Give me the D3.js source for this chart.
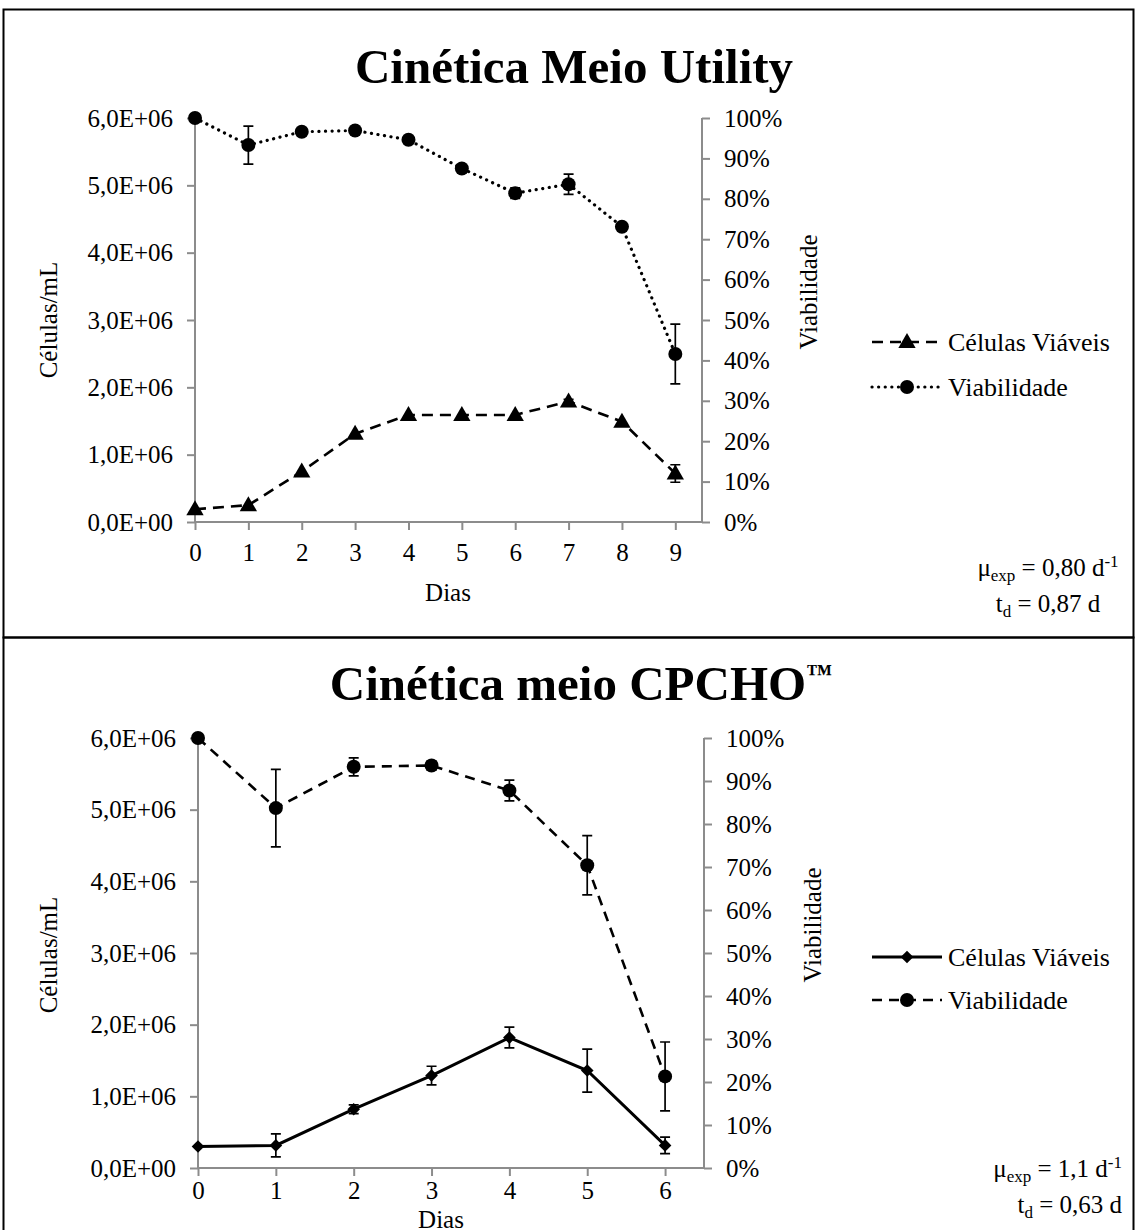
<!DOCTYPE html>
<html>
<head>
<meta charset="utf-8">
<script src="https://cdn.jsdelivr.net/npm/d3@7"></script>
<style>
  body { margin: 0; background: #fff; }
  svg text { font-family: "Liberation Serif", "Times New Roman", serif; fill: #000; }
</style>
</head>
<body>
<svg id="chart" width="1135" height="1230"></svg>
<script>
// ---- data ----
const utilityDays = [0, 1, 2, 3, 4, 5, 6, 7, 8, 9];
const utilityCells = [0.19e6, 0.25e6, 0.75e6, 1.31e6, 1.59e6, 1.59e6, 1.59e6, 1.79e6, 1.49e6, 0.72e6];
const utilityCellsErr = [0, 0, 0, 0, 0, 0, 0, 0.03e6, 0, 0.13e6];
const utilityViab = [1.00, 0.933, 0.966, 0.969, 0.946, 0.875, 0.814, 0.836, 0.731, 0.416];
const utilityViabErr = [0, 0.047, 0, 0, 0, 0, 0.013, 0.025, 0, 0.074];

const cpchoDays = [0, 1, 2, 3, 4, 5, 6];
const cpchoCells = [0.30e6, 0.315e6, 0.82e6, 1.29e6, 1.82e6, 1.36e6, 0.315e6];
const cpchoCellsErr = [0, 0.16e6, 0.06e6, 0.13e6, 0.145e6, 0.30e6, 0.115e6];
const cpchoViab = [1.00, 0.837, 0.933, 0.936, 0.878, 0.704, 0.213];
const cpchoViabErr = [0, 0.09, 0.021, 0.01, 0.024, 0.069, 0.08];

const leftTicks = [0, 1e6, 2e6, 3e6, 4e6, 5e6, 6e6];
const rightTicks = [0, 0.1, 0.2, 0.3, 0.4, 0.5, 0.6, 0.7, 0.8, 0.9, 1.0];
const seriesNames = ["Células Viáveis", "Viabilidade"];

const svg = d3.select("#chart");
const axisColor = "#8c8c8c";

function sciFmt(v) {
    if (v === 0) return "0,0E+00";
    return (v / 1e6).toFixed(1).replace(".", ",") + "E+06";
}
const pctFmt = d3.format(".0%");

// outer frames
svg.append("rect").attr("x", 3.5).attr("y", 9.5).attr("width", 1130).attr("height", 628)
    .attr("fill", "none").attr("stroke", "#000").attr("stroke-width", 2);
svg.append("rect").attr("x", 3.5).attr("y", 637.5).attr("width", 1130).attr("height", 600)
    .attr("fill", "none").attr("stroke", "#000").attr("stroke-width", 2);

function marker(g, type, x, y) {
    if (type === "circle") {
        g.append("circle").attr("cx", x).attr("cy", y).attr("r", 7).attr("fill", "#000");
    } else if (type === "triangle") {
        g.append("path").attr("d", d3.symbol(d3.symbolTriangle, 130)())
            .attr("transform", "translate(" + x + "," + (y + 1) + ")").attr("fill", "#000");
    } else {
        g.append("path").attr("d", d3.symbol(d3.symbolSquare, 80)())
            .attr("transform", "translate(" + x + "," + y + ") rotate(45)").attr("fill", "#000");
    }
}

function drawChart(c) {
    const g = svg.append("g");
    const x = d3.scaleLinear().domain([0, c.xMax]).range([c.left, c.right]);
    const yL = d3.scaleLinear().domain([0, 6e6]).range([c.bottom, c.top]);
    const yR = d3.scaleLinear().domain([0, 1]).range([c.bottom, c.top]);

    // title
    const t = g.append("text").attr("x", c.titleX).attr("y", c.titleY)
        .attr("text-anchor", "middle").style("font-size", "49px").style("font-weight", "bold")
        .text(c.title);
    if (c.titleSup) {
        t.append("tspan").attr("dy", -18).style("font-size", "26px").text(c.titleSup);
    }

    // axes
    const ax = g.append("g").attr("transform", "translate(0," + c.bottom + ")")
        .call(d3.axisBottom(x).tickValues(c.days).tickFormat(d3.format("d")).tickSize(8).tickPadding(c.xPad));
    const al = g.append("g").attr("transform", "translate(" + c.left + ",0)")
        .call(d3.axisLeft(yL).tickValues(leftTicks).tickFormat(sciFmt).tickSize(8).tickPadding(14));
    const ar = g.append("g").attr("transform", "translate(" + c.right + ",0)")
        .call(d3.axisRight(yR).tickValues(rightTicks).tickFormat(pctFmt).tickSize(8).tickPadding(14));
    [ax, al, ar].forEach(a => {
        a.select(".domain").attr("stroke", axisColor).attr("stroke-width", 2);
        a.selectAll(".tick line").attr("stroke", axisColor).attr("stroke-width", 2);
        a.selectAll(".tick text").style("font-size", "25px").attr("fill", "#000")
            .style("font-family", "'Liberation Serif', 'Times New Roman', serif");
    });
    ax.select(".domain").attr("d", "M" + c.left + ",0H" + c.right);
    al.select(".domain").attr("d", "M0," + c.bottom + "V" + c.top);
    ar.select(".domain").attr("d", "M0," + c.bottom + "V" + c.top);

    // axis titles
    g.append("text").attr("x", c.xTitleX).attr("y", c.xTitleY).attr("text-anchor", "middle")
        .style("font-size", "25px").text("Dias");
    g.append("text").attr("transform", "translate(" + c.yTitleX + "," + c.yTitleY + ") rotate(-90)")
        .attr("text-anchor", "middle").attr("dominant-baseline", "central")
        .style("font-size", "25px").text("Células/mL");
    g.append("text").attr("transform", "translate(" + c.y2TitleX + "," + c.y2TitleY + ") rotate(-90)")
        .attr("text-anchor", "middle").attr("dominant-baseline", "central")
        .style("font-size", "25px").text("Viabilidade");

    const series = [
        { vals: c.cells, err: c.cellsErr, y: yL, style: c.cellStyle, mark: c.cellMark },
        { vals: c.viab, err: c.viabErr, y: yR, style: c.viabStyle, mark: c.viabMark }
    ];
    const line = d3.line();

    series.forEach((s, si) => {
        const pts = c.days.map((d, i) => [x(d), s.y(s.vals[i])]);
        g.append("path").attr("d", line(pts)).attr("fill", "none").attr("stroke", "#000")
            .attr("stroke-width", s.style.width).attr("stroke-dasharray", s.style.dash)
            .attr("stroke-linecap", s.style.cap);
        // error bars
        c.days.forEach((d, i) => {
            if (!s.err[i]) return;
            const cx = x(d), y1 = s.y(s.vals[i] + s.err[i]), y2 = s.y(s.vals[i] - s.err[i]);
            g.append("path").attr("d", "M" + cx + "," + y1 + "V" + y2 +
                "M" + (cx - 5) + "," + y1 + "H" + (cx + 5) + "M" + (cx - 5) + "," + y2 + "H" + (cx + 5))
                .attr("stroke", "#000").attr("stroke-width", 1.7).attr("fill", "none");
        });
        pts.forEach(p => marker(g, s.mark, p[0], p[1]));

        // legend
        const ly = c.legendY[si];
        g.append("path").attr("d", "M872," + ly + "H942").attr("stroke", "#000")
            .attr("stroke-width", s.style.width).attr("stroke-dasharray", s.style.dash)
            .attr("stroke-linecap", s.style.cap).attr("fill", "none");
        marker(g, s.mark, 907, ly);
        g.append("text").attr("x", 948).attr("y", ly).attr("dominant-baseline", "central")
            .style("font-size", "26px").text(seriesNames[si]);
    });

    // growth annotations
    const a1 = g.append("text").attr("x", c.noteX).attr("y", c.noteY[0]).attr("text-anchor", c.noteAnchor)
        .style("font-size", "25px");
    a1.append("tspan").text("μ");
    a1.append("tspan").attr("dy", 5).style("font-size", "17px").text("exp");
    a1.append("tspan").attr("dy", -5).text(" = " + c.mu + " d");
    a1.append("tspan").attr("dy", -9).style("font-size", "17px").text("-1");
    const a2 = g.append("text").attr("x", c.noteX2).attr("y", c.noteY[1]).attr("text-anchor", c.noteAnchor)
        .style("font-size", "25px");
    a2.append("tspan").text("t");
    a2.append("tspan").attr("dy", 5).style("font-size", "17px").text("d");
    a2.append("tspan").attr("dy", -5).text(" = " + c.td + " d");
}

drawChart({
    title: "Cinética Meio Utility", titleX: 574, titleY: 83,
    days: utilityDays, xMax: 9.5, cells: utilityCells, cellsErr: utilityCellsErr,
    viab: utilityViab, viabErr: utilityViabErr,
    left: 195, right: 702, top: 118, bottom: 522, xPad: 13,
    cellStyle: { width: 2.6, dash: "11,7", cap: "butt" },
    viabStyle: { width: 3.2, dash: "0.1,6.5", cap: "round" },
    cellMark: "triangle", viabMark: "circle",
    xTitleX: 448, xTitleY: 601, yTitleX: 48, yTitleY: 320, y2TitleX: 808, y2TitleY: 292,
    legendY: [342, 387],
    mu: "0,80", td: "0,87", noteX: 1048, noteX2: 1048, noteAnchor: "middle", noteY: [576, 612]
});

drawChart({
    title: "Cinética meio CPCHO", titleSup: "™", titleX: 581, titleY: 700,
    days: cpchoDays, xMax: 6.5, cells: cpchoCells, cellsErr: cpchoCellsErr,
    viab: cpchoViab, viabErr: cpchoViabErr,
    left: 198, right: 704, top: 738, bottom: 1168, xPad: 5,
    cellStyle: { width: 3, dash: null, cap: "butt" },
    viabStyle: { width: 2.6, dash: "10,7", cap: "butt" },
    cellMark: "diamond", viabMark: "circle",
    xTitleX: 441, xTitleY: 1228, yTitleX: 48, yTitleY: 955, y2TitleX: 812, y2TitleY: 925,
    legendY: [957, 1000],
    mu: "1,1", td: "0,63", noteX: 1122, noteX2: 1122, noteAnchor: "end", noteY: [1177, 1213]
});
</script>
</body>
</html>
